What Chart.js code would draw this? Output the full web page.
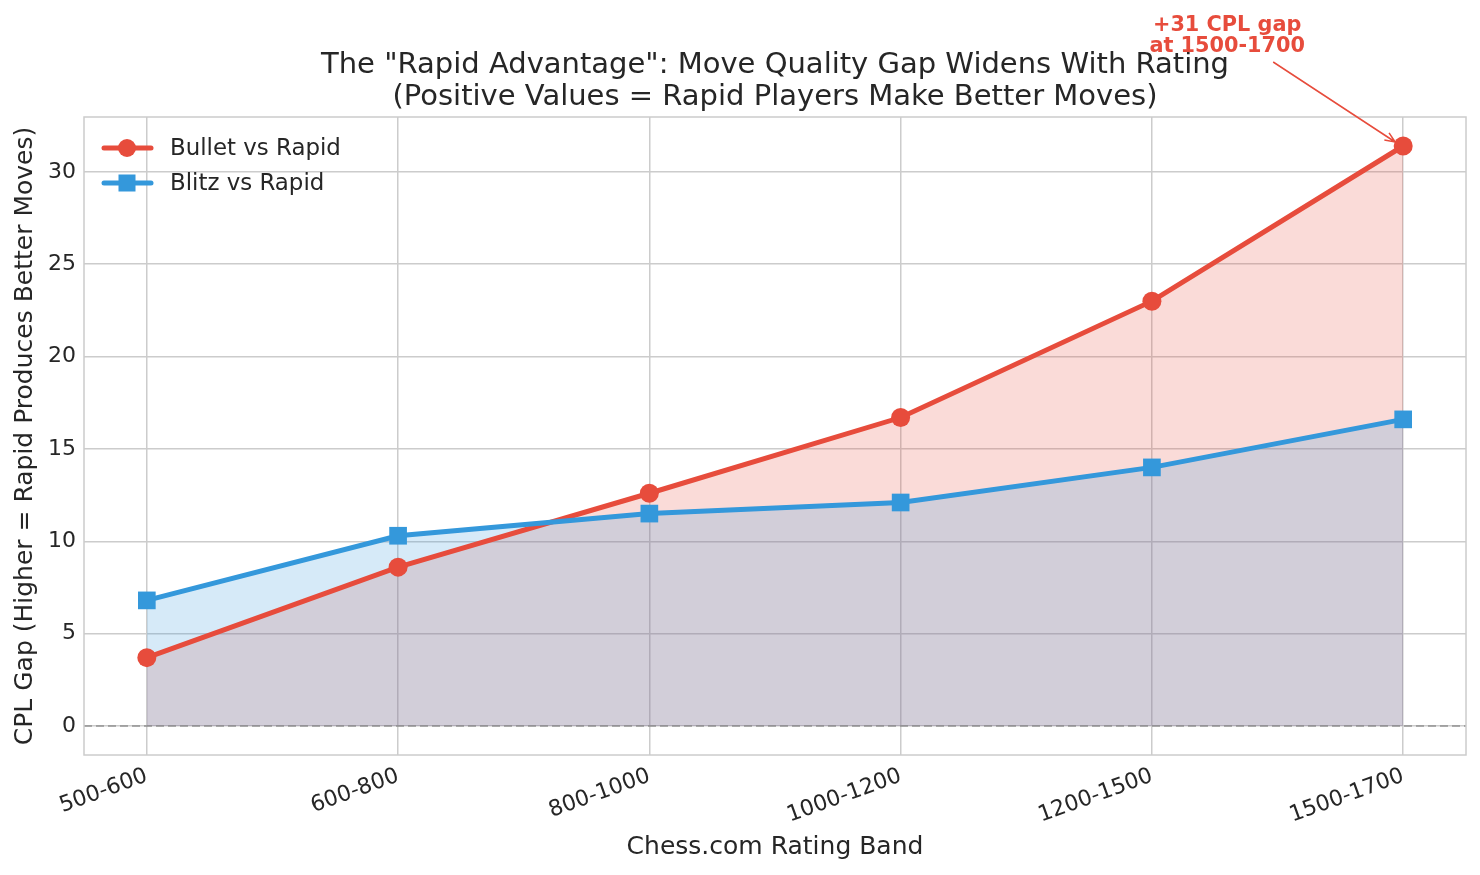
<!DOCTYPE html>
<html>
<head>
<meta charset="utf-8">
<script src="https://cdn.jsdelivr.net/npm/chart.js@4"></script>
<style>
  body { margin: 0; background: #fff; }
  #wrap { width: 1480px; height: 875px; }
</style>
</head>
<body>
<div id="wrap"><canvas id="chart" width="1480" height="875"></canvas></div>
<script>
const categories = ["500-600", "600-800", "800-1000", "1000-1200", "1200-1500", "1500-1700"];
const bulletVsRapid = [3.7, 8.6, 12.6, 16.7, 23.0, 31.4];
const blitzVsRapid = [6.8, 10.3, 11.5, 12.1, 14.0, 16.6];
const yTicks = [0, 5, 10, 15, 20, 25, 30];

const red = "#e74c3c";
const blue = "#3498db";
const ink = "#262626";
const font = "DejaVu Sans";

function toPoints(values) {
    return values.map((v, i) => ({ x: i, y: v }));
}

// title, legend, zero line, frame and the annotation
const extras = {
    id: "extras",
    afterDatasetsDraw(chart) {
        const c = chart.ctx;
        const a = chart.chartArea;
        const y0 = chart.scales.y.getPixelForValue(0);
        c.save();
        c.strokeStyle = "rgba(128,128,128,0.6)";
        c.lineWidth = 2;
        c.setLineDash([8, 4]);
        c.beginPath();
        c.moveTo(a.left, y0);
        c.lineTo(a.right, y0);
        c.stroke();
        c.setLineDash([]);
        c.strokeStyle = "#cccccc";
        c.lineWidth = 1.5;
        c.strokeRect(a.left, a.top, a.right - a.left, a.bottom - a.top);
        c.restore();
    },
    afterDraw(chart) {
        const c = chart.ctx;
        const a = chart.chartArea;
        c.save();

        // title
        const cx = (a.left + a.right) / 2;
        c.fillStyle = ink;
        c.font = "29px '" + font + "'";
        c.textAlign = "center";
        c.textBaseline = "alphabetic";
        c.fillText('The "Rapid Advantage": Move Quality Gap Widens With Rating', cx, 73);
        c.fillText("(Positive Values = Rapid Players Make Better Moves)", cx, 105);

        // legend
        const rows = [
            { label: "Bullet vs Rapid", color: red, shape: "circle" },
            { label: "Blitz vs Rapid", color: blue, shape: "rect" }
        ];
        c.textAlign = "left";
        c.textBaseline = "middle";
        c.font = "22.9px '" + font + "'";
        rows.forEach((r, i) => {
            const yy = a.top + 31 + i * 35;
            c.strokeStyle = r.color;
            c.lineWidth = 5;
            c.lineCap = "round";
            c.beginPath();
            c.moveTo(a.left + 20, yy);
            c.lineTo(a.left + 67, yy);
            c.stroke();
            c.fillStyle = r.color;
            if (r.shape === "circle") {
                c.beginPath();
                c.arc(a.left + 43, yy, 9, 0, Math.PI * 2);
                c.fill();
            } else {
                c.fillRect(a.left + 34.5, yy - 8.5, 17, 17);
            }
            c.fillStyle = ink;
            c.fillText(r.label, a.left + 86, yy + 1);
        });

        // annotation on the last bullet point
        const last = bulletVsRapid.length - 1;
        const px = chart.scales.x.getPixelForValue(last);
        const py = chart.scales.y.getPixelForValue(bulletVsRapid[last]);
        c.fillStyle = red;
        c.font = "bold 20.8px '" + font + "'";
        c.textAlign = "center";
        c.textBaseline = "alphabetic";
        c.fillText("+" + Math.round(bulletVsRapid[last]) + " CPL gap", px - 176, py - 115);
        c.fillText("at " + categories[last], px - 176, py - 94);

        const sx = px - 130, sy = py - 84;
        const ex = px - 8, ey = py - 4;
        c.strokeStyle = red;
        c.lineWidth = 1.5;
        c.lineCap = "butt";
        c.beginPath();
        c.moveTo(sx, sy);
        c.lineTo(ex, ey);
        const ang = Math.atan2(ey - sy, ex - sx);
        const hl = 11;
        c.moveTo(ex - hl * Math.cos(ang - 0.4), ey - hl * Math.sin(ang - 0.4));
        c.lineTo(ex, ey);
        c.lineTo(ex - hl * Math.cos(ang + 0.4), ey - hl * Math.sin(ang + 0.4));
        c.stroke();

        c.restore();
    }
};

const ctx = document.getElementById("chart").getContext("2d");

new Chart(ctx, {
    type: "line",
    data: {
        datasets: [
            {
                label: "Bullet vs Rapid",
                data: toPoints(bulletVsRapid),
                borderColor: red,
                backgroundColor: "rgba(231,76,60,0.2)",
                pointBackgroundColor: red,
                pointBorderColor: red,
                pointBorderWidth: 0,
                pointStyle: "circle",
                pointRadius: 9.5,
                borderWidth: 5,
                fill: "origin",
                order: 1
            },
            {
                label: "Blitz vs Rapid",
                data: toPoints(blitzVsRapid),
                borderColor: blue,
                backgroundColor: "rgba(52,152,219,0.2)",
                pointBackgroundColor: blue,
                pointBorderColor: blue,
                pointBorderWidth: 0,
                pointStyle: "rect",
                pointRadius: 12.5,
                borderWidth: 5,
                fill: "origin",
                order: 0
            }
        ]
    },
    options: {
        responsive: false,
        animation: false,
        layout: { padding: { left: 0, right: 14, top: 117, bottom: 0 } },
        plugins: {
            legend: { display: false },
            title: { display: false },
            tooltip: { enabled: false },
            filler: { drawTime: "beforeDatasetsDraw" }
        },
        scales: {
            x: {
                type: "linear",
                min: -0.25,
                max: categories.length - 0.75,
                afterBuildTicks: s => { s.ticks = categories.map((_, i) => ({ value: i })); },
                afterFit: s => { s.height = 120; },
                grid: { color: "#cccccc", lineWidth: 1.5, drawTicks: false },
                border: { display: false },
                ticks: {
                    callback: v => categories[v],
                    color: ink,
                    font: { family: font, size: 22 },
                    minRotation: 20,
                    maxRotation: 20,
                    padding: 8,
                    autoSkip: false
                },
                title: {
                    display: true,
                    text: "Chess.com Rating Band",
                    color: ink,
                    font: { family: font, size: 25 },
                    padding: { top: 0, bottom: 13 }
                }
            },
            y: {
                min: -1.57,
                max: 32.97,
                afterBuildTicks: s => { s.ticks = yTicks.map(v => ({ value: v })); },
                afterFit: s => { s.width = 84; },
                grid: { color: "#cccccc", lineWidth: 1.5, drawTicks: false },
                border: { display: false },
                ticks: {
                    color: ink,
                    font: { family: font, size: 22 },
                    padding: 8
                },
                title: {
                    display: true,
                    text: "CPL Gap (Higher = Rapid Produces Better Moves)",
                    color: ink,
                    font: { family: font, size: 25 },
                    padding: { top: 10, bottom: 0 }
                }
            }
        }
    },
    plugins: [extras]
});
</script>
</body>
</html>
